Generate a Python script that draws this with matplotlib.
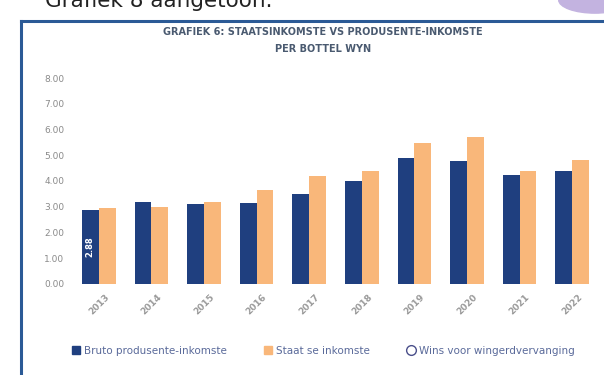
import matplotlib
matplotlib.use('Agg')
import matplotlib.pyplot as plt
import numpy as np
from matplotlib.patches import Ellipse
from matplotlib.lines import Line2D

years = ["2013", "2014", "2015", "2016", "2017", "2018", "2019", "2020", "2021", "2022"]
producer_income = [2.88, 3.19, 3.11, 3.15, 3.50, 4.00, 4.90, 4.79, 4.24, 4.40]
state_income = [2.96, 3.00, 3.19, 3.66, 4.20, 4.40, 5.49, 5.72, 4.40, 4.82]
y_ticks = [0, 1, 2, 3, 4, 5, 6, 7, 8]

navy = '#1f3f7f'
orange = '#f9b77a'
frame_blue = '#2b5a96'
grey = '#8a8a8a'

fig = plt.figure(figsize=(6.04, 3.75), dpi=100)

# page text above the box, partly cut by the top edge
fig.text(0.075, 1.025, "Grafiek 8 aangetoon.", fontsize=15.5, color='#222222',
         va='top', ha='left')
fig.add_artist(Line2D([0.034, 0.034], [0.0, 0.943], color=frame_blue, lw=2.2,
                      transform=fig.transFigure))
fig.add_artist(Line2D([0.034, 1.0], [0.943, 0.943], color=frame_blue, lw=2.2,
                      transform=fig.transFigure))
fig.add_artist(Ellipse((0.985, 1.0), 0.12, 0.07, color='#c3b3e0',
                       transform=fig.transFigure))

ax = fig.add_axes([0.120, 0.243, 0.871, 0.549])
x = np.arange(len(years))
w = 0.32
ax.bar(x - w / 2, producer_income, w, color=navy)
ax.bar(x + w / 2, state_income, w, color=orange)

ax.text(x[0] - w / 2, producer_income[0] / 2, f"{producer_income[0]:.2f}",
        rotation=90, color='white', fontsize=6, ha='center', va='center',
        fontweight='bold')

ax.set_xlim(-0.5, len(years) - 0.5)
ax.set_ylim(0, 8)
ax.set_yticks(y_ticks)
ax.set_yticklabels([f"{v:.2f}" for v in y_ticks], fontsize=6.5, color=grey)
ax.set_xticks(x)
ax.set_xticklabels(years, rotation=45, fontsize=6.5, color='#9a9a9a',
                   fontweight='bold', ha='center')
ax.tick_params(axis='both', length=0, pad=6)
for s in ax.spines.values():
    s.set_visible(False)

fig.text(0.535, 0.915, "GRAFIEK 6: STAATSINKOMSTE VS PRODUSENTE-INKOMSTE",
         ha='center', va='center', fontsize=7, fontweight='bold', color='#4a5a70')
fig.text(0.535, 0.870, "PER BOTTEL WYN", ha='center', va='center', fontsize=7,
         fontweight='bold', color='#4a5a70')

handles = [
    plt.Rectangle((0, 0), 1, 1, color=navy),
    plt.Rectangle((0, 0), 1, 1, color=orange),
    Line2D([], [], marker='o', linestyle='none', markerfacecolor='white',
           markeredgecolor='#4a4f8a', markersize=7),
]
labels = ["Bruto produsente-inkomste", "Staat se inkomste",
          "Wins voor wingerdvervanging"]
fig.legend(handles, labels, loc='center', bbox_to_anchor=(0.535, 0.065),
           ncol=3, frameon=False, fontsize=7.5, handlelength=0.8,
           handletextpad=0.4, columnspacing=3.5, labelcolor='#5a6a9a')

fig.savefig('out.png', dpi=100)
